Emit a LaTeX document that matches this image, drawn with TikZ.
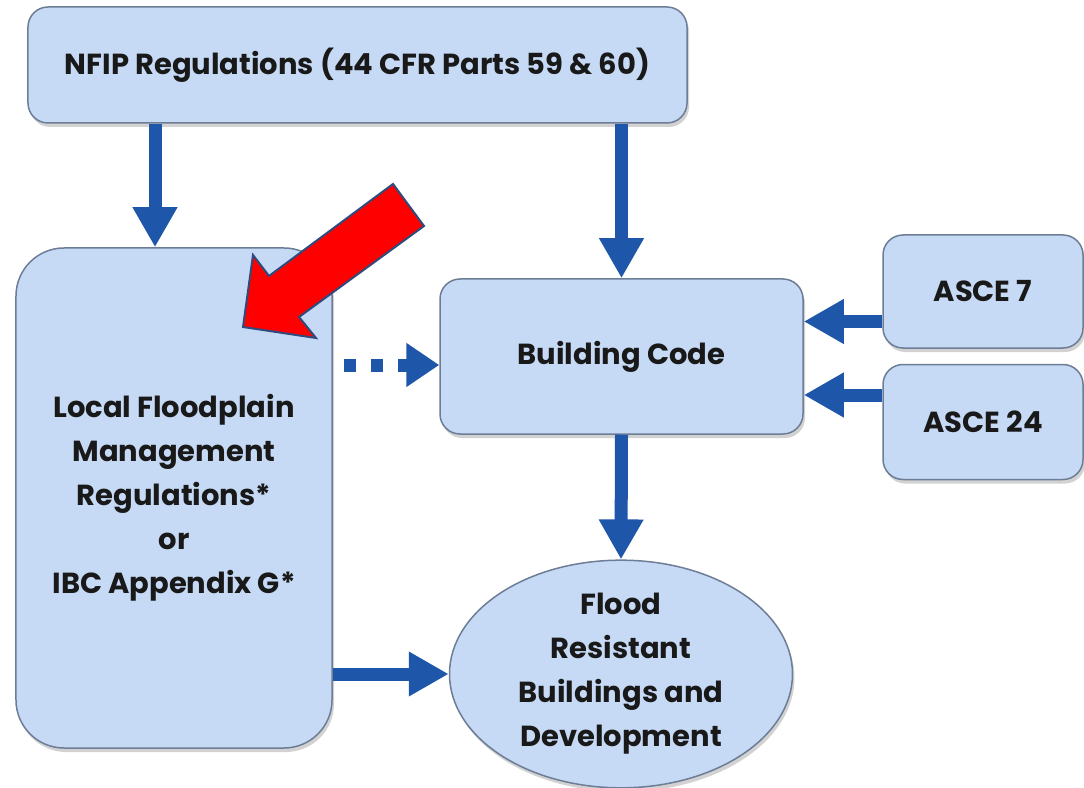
\documentclass[tikz,border=0pt]{standalone}
\usepackage{fontspec}
\setmainfont{Poppins}
\usetikzlibrary{positioning,arrows.meta,shapes.geometric,shadows}

\definecolor{boxfill}{RGB}{198,218,245}
\definecolor{boxline}{RGB}{110,125,150}
\definecolor{flowblue}{RGB}{30,86,170}
\definecolor{outlineblue}{RGB}{47,75,125}

\begin{document}
\begin{tikzpicture}[
			x=0.2mm, y=-0.2mm,
			every node/.style={
					font=\bfseries\fontsize{16.5}{25}\selectfont,
					text=black!90,
					align=center,
					inner sep=0pt
				},
			box/.style={
					draw=boxline,
					line width=0.3mm,
					fill=boxfill,
					rounded corners=4mm,
					drop shadow={opacity=0.35,shadow xshift=0.4mm,shadow yshift=-0.8mm}
				},
			flow/.style={
					draw=flowblue,
					line width=2.6mm,
					-{Triangle[width=8.4mm,length=8mm]}
				}
		]

		\fill[white] (0,0) rectangle (1084,788);
		\useasboundingbox (0,0) rectangle (1084,788);

		\node (nfip) [box,
			minimum width=131.8mm,
			minimum height=23.2mm] at (357.5,65)
		{NFIP Regulations (44 CFR Parts 59 \& 60)};

		\node (local) [box,
			rounded corners=9.6mm,
			minimum width=63.2mm,
			minimum height=100mm] at (174,498)
		{Local Floodplain\\Management\\Regulations*\\or\\IBC Appendix G*};

		\node (bcode) [box,
			minimum width=72.6mm,
			minimum height=31mm] at (621.5,356.5)
		{Building Code};

		\node (asce7) [box,
			minimum width=40mm,
			minimum height=22.6mm] at (983,291.5)
		{ASCE 7};

		\node (asce24) [box, below=3mm of asce7,
			minimum width=40mm,
			minimum height=23mm]
		{ASCE 24};

		\node (flood) [box, ellipse,
			minimum width=68.6mm,
			minimum height=44.4mm] at (621,674)
		{Flood\\Resistant\\Buildings and\\Development};

		\draw[flow] ([xshift=-3.8mm]local.north |- nfip.south) -- ([xshift=-3.8mm]local.north);
		\draw[flow] (nfip.south -| bcode.north) -- (bcode.north);
		\draw[flow] ([yshift=-6mm]asce7.west) -- ([yshift=-6mm]asce7.west -| bcode.east);
		\draw[flow] ([yshift=5.4mm]asce24.west) -- ([yshift=5.4mm]asce24.west -| bcode.east);
		\draw[flow, -{Triangle[width=8.4mm,length=6.6mm]},
			dash pattern=on 2.4mm off 3mm, shorten <=2.2mm]
		([yshift=-1.7mm]bcode.west -| local.east) -- ([yshift=-1.7mm]bcode.west);
		\draw[flow] (bcode.south) -- (flood.north);
		\draw[flow] (flood.west -| local.east) -- (flood.west);

		% red pointer
		\draw[draw=outlineblue, line width=0.4mm, fill=red]
		(393,184) -- (269,276) -- (253,255) -- (243,327)
		-- (316,338) -- (299,317) -- (424,226) -- cycle;

	\end{tikzpicture}
\end{document}
